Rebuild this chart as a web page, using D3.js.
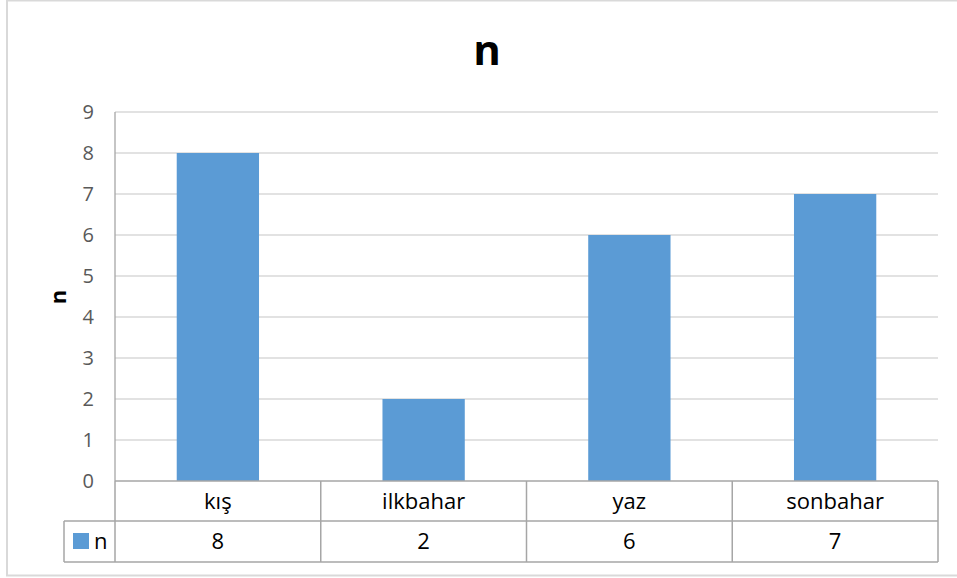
<!DOCTYPE html>
<html>
<head>
<meta charset="utf-8">
<script src="https://cdn.jsdelivr.net/npm/d3@7"></script>
<style>
html,body{margin:0;padding:0;background:#fff;}
svg{display:block;font-family:"Open Sans",sans-serif;}
</style>
</head>
<body>
<svg id="chart" width="957" height="578"></svg>
<script>
const categories = ["kış", "ilkbahar", "yaz", "sonbahar"];
const values = [8, 2, 6, 7];
const seriesName = "n";
const yTicks = [0,1,2,3,4,5,6,7,8,9];
const titleText = "n";
const yAxisTitle = "n";

(function () {
const svg = d3.select("#chart");
const W = 957;
const pLeft = 115, pRight = 938, pTop = 112, pBottom = 481;
const row1 = 521, row2 = 562, legLeft = 64;

// outer border
svg.append("rect").attr("x", 7).attr("y", 0.5).attr("width", W + 10).attr("height", 575)
  .attr("fill", "#fff").attr("stroke", "#d9d9d9").attr("stroke-width", 2);

const x = d3.scaleBand().domain(categories).range([pLeft, pRight]).paddingInner(0.6).paddingOuter(0.3);
const xCell = d3.scaleBand().domain(categories).range([pLeft, pRight]).padding(0);
const y = d3.scaleLinear().domain([0, 9]).range([pBottom, pTop]);

// gridlines
svg.append("g").selectAll("line").data(yTicks.filter(d => d > 0)).join("line")
  .attr("x1", pLeft).attr("x2", pRight)
  .attr("y1", d => y(d)).attr("y2", d => y(d))
  .attr("stroke", "#d9d9d9").attr("stroke-width", 1.3);

// bars
svg.append("g").selectAll("rect").data(values).join("rect")
  .attr("x", (d, i) => x(categories[i]))
  .attr("y", d => y(d))
  .attr("width", x.bandwidth())
  .attr("height", d => y(0) - y(d))
  .attr("fill", "#5b9bd5");

// y axis ticks
const yAxis = d3.axisLeft(y).tickValues(yTicks).tickSize(0).tickPadding(21).tickFormat(d3.format("d"));
const gy = svg.append("g").attr("transform", `translate(${pLeft},0)`).call(yAxis);
gy.select(".domain").remove();
gy.selectAll("text").attr("fill", "#595959").style("font-size", "20px").style("font-family", "Open Sans");

// left axis line
svg.append("line").attr("x1", pLeft).attr("x2", pLeft).attr("y1", pTop).attr("y2", pBottom)
  .attr("stroke", "#a6a6a6").attr("stroke-width", 1.3);

// table lines
const tl = svg.append("g").attr("stroke", "#a6a6a6").attr("stroke-width", 1.5).attr("fill", "none");
tl.append("line").attr("x1", pLeft).attr("x2", pRight).attr("y1", pBottom).attr("y2", pBottom);
tl.append("line").attr("x1", legLeft).attr("x2", pRight).attr("y1", row1).attr("y2", row1);
tl.append("line").attr("x1", legLeft).attr("x2", pRight).attr("y1", row2).attr("y2", row2);
tl.append("line").attr("x1", legLeft).attr("x2", legLeft).attr("y1", row1).attr("y2", row2);
const vx = categories.map(c => xCell(c)).concat([pRight]);
tl.selectAll("line.v").data(vx).join("line").attr("class", "v")
  .attr("x1", d => d).attr("x2", d => d).attr("y1", pBottom).attr("y2", row2);

// category labels
svg.append("g").selectAll("text").data(categories).join("text")
  .attr("x", d => xCell(d) + xCell.bandwidth() / 2)
  .attr("y", (pBottom + row1) / 2)
  .attr("dy", "0.35em")
  .attr("text-anchor", "middle")
  .attr("fill", "#000")
  .style("font-size", "22px")
  .text(d => d);

// value labels
svg.append("g").selectAll("text").data(values).join("text")
  .attr("x", (d, i) => xCell(categories[i]) + xCell.bandwidth() / 2)
  .attr("y", (row1 + row2) / 2)
  .attr("dy", "0.35em")
  .attr("text-anchor", "middle")
  .attr("fill", "#000")
  .style("font-size", "22px")
  .text(d => d);

// legend key
svg.append("rect").attr("x", 73).attr("y", 533).attr("width", 16).attr("height", 16).attr("fill", "#5b9bd5");
svg.append("text").attr("x", 94).attr("y", (row1 + row2) / 2).attr("dy", "0.35em")
  .attr("fill", "#000").style("font-size", "22px").text(seriesName);

// title
svg.append("text").attr("x", 487).attr("y", 65).attr("text-anchor", "middle")
  .attr("fill", "#000").style("font-size", "42px").style("font-weight", "bold").text(titleText);

// y axis title
svg.append("text").attr("transform", "translate(66,297) rotate(-90)")
  .attr("text-anchor", "middle").attr("fill", "#000")
  .style("font-size", "22px").style("font-weight", "bold").text(yAxisTitle);
})();
</script>
</body>
</html>
